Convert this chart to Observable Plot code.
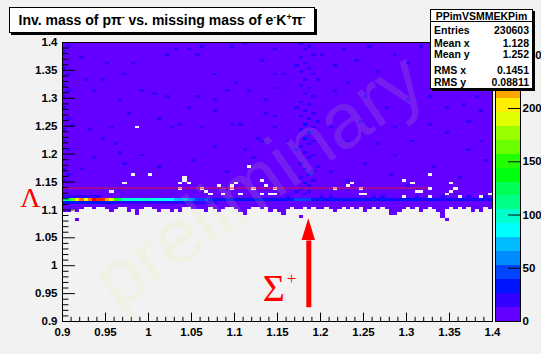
<!DOCTYPE html>
<html>
<head>
<meta charset="utf-8">
<script src="https://cdn.jsdelivr.net/npm/d3@7"></script>
<script src="https://cdn.jsdelivr.net/npm/@observablehq/plot@0.6"></script>
<style>
html,body{margin:0;padding:0;background:#f2f2f2;}
#wrap{position:relative;width:541px;height:354px;overflow:hidden;background:#f2f2f2;font-family:"Liberation Sans",Arial,Helvetica,sans-serif;font-weight:bold;color:#000;}
#wrap svg{position:absolute;top:0;}
#title{position:absolute;left:9px;top:7px;width:304px;height:24px;background:#fff;border:1px solid #000;box-shadow:2px 2px 0 #000;font-size:14px;line-height:25px;text-align:center;white-space:nowrap;}
.sup{font-size:9px;position:relative;top:-5px;}
#stats{position:absolute;left:430px;top:9px;width:101px;height:78px;background:#fff;border:1px solid #000;box-shadow:2px 2px 0 #000;font-size:10.5px;}
#stats .hdr{position:absolute;left:0;right:0;top:0;text-align:center;line-height:12px;}
#stats .sep{position:absolute;left:0;right:0;top:11px;border-top:1px solid #000;}
#stats .row{position:absolute;left:3px;right:3px;line-height:12px;}
#stats .row .v{position:absolute;right:0;top:0;}
#wm{position:absolute;left:258px;top:180px;transform:translate(-50%,-50%) rotate(-35deg);font-size:78px;font-weight:normal;color:rgba(228,240,130,0.13);white-space:nowrap;pointer-events:none;}
</style>
</head>
<body>
<div id="wrap"></div>
<script>
// ---------- chart data ----------
const binWidth = 0.005;                       // 100 x 100 bins on [0.9, 1.4]
const xRange = [0.9, 1.4];
const yRange = [0.9, 1.4];
const zMax = 262;                              // top of colour bar
const nLevels = 20;                            // ROOT contour levels
const backgroundCount = 5;                     // typical occupied bin (lowest colour)

const xMajor = [0.9, 0.95, 1, 1.05, 1.1, 1.15, 1.2, 1.25, 1.3, 1.35, 1.4];
const xTickLabels = ["0.9","0.95","1","1.05","1.1","1.15","1.2","1.25","1.3","1.35","1.4"];
const yMajor = [0.9, 0.95, 1, 1.05, 1.1, 1.15, 1.2, 1.25, 1.3, 1.35, 1.4];
const yTickLabels = ["0.9","0.95","1","1.05","1.1","1.15","1.2","1.25","1.3","1.35","1.4"];
const zTicks = [0, 50, 100, 150, 200, 250];
const zTickLabels = ["0", "50", "100", "150", "200", "250"];

// lowest occupied y bin (lower edge) for each x bin
const bottomEdge = [
 1.095,1.095,1.1,1.095,1.1,1.105,1.105,1.1,1.105,1.105,
 1.1,1.095,1.1,1.105,1.105,1.095,1.1,1.09,1.1,1.105,
 1.105,1.1,1.095,1.1,1.1,1.095,1.1,1.095,1.105,1.105,
 1.1,1.1,1.1,1.095,1.105,1.1,1.095,1.1,1.105,1.105,
 1.1,1.095,1.09,1.1,1.105,1.105,1.1,1.105,1.095,1.1,
 1.095,1.09,1.1,1.105,1.1,1.1,1.105,1.1,1.105,1.1,
 1.1,1.105,1.1,1.095,1.1,1.105,1.1,1.105,1.1,1.105,
 1.095,1.1,1.105,1.1,1.105,1.1,1.09,1.09,1.095,1.1,
 1.105,1.1,1.105,1.095,1.1,1.105,1.1,1.095,1.09,1.1,
 1.105,1.1,1.105,1.1,1.105,1.095,1.1,1.095,1.105,1.1
];

// Lambda peak row (y bin 1.115-1.12), counts per x bin
const lambdaRowY = 1.115;
const lambdaRow = [
 95,130,165,205,225,190,230,250,245,240,
 215,185,150,120,100,95,100,90,95,100,
 92,88,95,85,80,82,75,70,72,65,
 60,52,45,40,38,35,33,30,34,28,
 31,35,29,32,27,30,33,28,31,29,
 34,30,36,38,42,45,44,40,37,35,
 31,29,33,30,28,32,29,27,31,30,
 28,33,29,27,30,32,28,26,29,31,
 27,30,28,25,29,31,27,28,26,30,
 27,24,28,29,26,27,25,28,26,27
];
// row just below the peak (y bin 1.11-1.115), first x bins
const belowRowY = 1.11;
const belowRow = [
 30,32,35,33,36,34,35,30,33,32,28,27,25,24,22,20,22,21,
 20,19,22,20,18,19,17,18,16,17,15,16,14,15,14,16,14,15
];

// bins with a higher count (blue); [x, y, count]
const blueCells = [
 [0.905,1.39,18],[0.92,1.37,18],[0.95,1.36,18],[0.97,1.34,18],[0.98,1.36,18],[1.02,1.375,18],[1.03,1.385,18],
 [1.045,1.385,18],[1.055,1.375,18],[1.06,1.39,18],[1.075,1.34,18],[1.095,1.39,18],[1.11,1.395,18],[1.13,1.365,18],
 [1.145,1.34,18],[0.905,1.31,18],[0.925,1.33,18],[0.935,1.31,18],[0.945,1.33,18],[0.965,1.295,18],[0.99,1.31,18],
 [1.005,1.305,18],[1.02,1.3,18],[1.055,1.3,18],[1.075,1.295,18],[1.09,1.31,18],[1.1,1.325,18],[1.115,1.31,18],
 [1.135,1.295,18],[1.145,1.315,18],[0.91,1.25,18],[0.93,1.24,18],[0.945,1.225,18],[0.955,1.245,18],[0.975,1.27,18],
 [1.01,1.26,18],[1.025,1.245,18],[1.035,1.25,18],[1.045,1.28,18],[1.06,1.245,18],[1.075,1.275,18],[1.095,1.25,18],
 [1.105,1.25,18],[1.125,1.225,18],[1.135,1.27,18],[1.145,1.265,18],[0.905,1.205,18],[0.935,1.19,18],[0.96,1.215,18],
 [0.965,1.2,18],[0.99,1.195,18],[1.075,1.21,18],[1.11,1.205,18],[1.13,1.22,18],
 [0.9,1.35,18],[0.9,1.3,18],[0.9,1.28,18],[0.905,1.26,18],[0.9,1.22,18],[0.9,1.17,18],[0.905,1.16,18],[0.9,1.15,18],
 [0.9,1.38,18],[0.905,1.34,18],[0.9,1.32,18],[0.9,1.24,18],
 [1.145,1.385,18],[1.155,1.34,18],[1.2,1.375,18],[1.215,1.355,18],[1.225,1.385,18],[1.24,1.365,18],[1.255,1.39,18],
 [1.265,1.345,18],[1.285,1.375,18],[1.3,1.36,18],[1.315,1.39,18],[1.215,1.31,18],[1.23,1.325,18],[1.25,1.3,18],
 [1.275,1.28,18],[1.3,1.295,18],[1.325,1.3,18],[1.345,1.28,18],[1.365,1.285,18],[1.385,1.275,18],[1.38,1.3,18],
 [1.145,1.245,18],[1.16,1.22,18],[1.21,1.245,18],[1.23,1.22,18],[1.245,1.255,18],[1.265,1.215,18],[1.285,1.245,18],
 [1.305,1.22,18],[1.325,1.25,18],[1.345,1.235,18],[1.37,1.255,18],[1.385,1.22,18],[1.37,1.205,18],[1.285,1.195,18],
 [0.92,1.17,18],[0.97,1.18,18],[1.01,1.175,18],[1.05,1.185,18],[1.09,1.165,18],[1.12,1.19,18],[1.21,1.165,18],
 [1.25,1.18,18],[1.28,1.16,18],[1.33,1.175,18],[1.36,1.155,18],[1.39,1.185,18],[1.23,1.15,18],[1.3,1.14,18],
 // Sigma+ column
 [1.175,1.395,18],[1.175,1.37,18],[1.175,1.345,18],[1.175,1.32,18],[1.175,1.29,18],[1.175,1.265,18],[1.175,1.24,18],
 [1.175,1.21,18],[1.175,1.18,18],[1.175,1.155,18],[1.175,1.135,18],
 [1.18,1.385,18],[1.18,1.36,18],[1.18,1.33,18],[1.18,1.305,18],[1.18,1.275,18],[1.18,1.25,30],[1.18,1.225,30],
 [1.18,1.2,18],[1.18,1.17,18],[1.18,1.145,30],[1.18,1.125,18],
 [1.185,1.39,18],[1.185,1.35,18],[1.185,1.315,18],[1.185,1.285,18],[1.185,1.26,18],[1.185,1.235,30],[1.185,1.215,18],
 [1.185,1.19,18],[1.185,1.16,30],[1.185,1.14,18],[1.185,1.13,18],
 [1.19,1.375,18],[1.19,1.34,18],[1.19,1.3,18],[1.19,1.27,18],[1.19,1.245,18],[1.19,1.22,18],[1.19,1.195,18],
 [1.19,1.165,18],[1.19,1.15,18],
 [1.17,1.355,18],[1.17,1.28,18],[1.17,1.205,18],[1.17,1.13,18],[1.195,1.33,18],[1.195,1.255,18],[1.195,1.175,18],
 // row above the Lambda peak
 [0.9,1.12,20],[0.905,1.12,22],[0.91,1.12,18],[0.915,1.12,20],[0.92,1.12,24],[0.925,1.12,20],[0.93,1.12,18],
 [0.935,1.12,21],[0.94,1.12,17],[1.16,1.12,18],[1.2,1.12,18],[1.21,1.12,18],[1.26,1.12,18],[1.27,1.12,18],
 [1.31,1.12,18],[1.34,1.12,18],[1.37,1.12,18],[1.39,1.12,18]
];

// empty bins inside the occupied region; [x, y]
const emptyCells = [
 [0.985,1.245],[0.955,1.13],[0.97,1.145],[0.98,1.16],[1.0,1.16],[1.035,1.145],[1.035,1.135],[1.04,1.15],
 [1.04,1.155],[1.045,1.145],[1.06,1.135],[1.065,1.13],[1.07,1.125],[1.08,1.14],[1.085,1.125],[1.095,1.14],
 [1.095,1.135],[1.1,1.145],[1.105,1.125],[1.115,1.175],[1.12,1.135],[1.13,1.15],[1.13,1.125],[1.135,1.14],
 [1.14,1.125],[1.145,1.135],[1.145,1.125],[1.215,1.135],[1.23,1.14],[1.235,1.145],[1.245,1.135],[1.245,1.125],
 [1.25,1.125],[1.295,1.15],[1.305,1.145],[1.295,1.12],[1.315,1.13],[1.325,1.16],[1.325,1.135],[1.325,1.12],
 [1.345,1.125],[1.35,1.145],[1.35,1.13],[1.355,1.135],[1.36,1.12],[1.385,1.12],[1.395,1.125],[1.31,1.13]
];

// occupied bins below the main edge; [x, y, count]
const isolatedCells = [
 [0.915,1.08,5],[1.175,1.085,5],[1.335,1.095,5],[1.34,1.095,5],[1.34,1.085,5],[1.345,1.08,5],[1.285,1.09,5]
];

// annotations
const lambdaLineY = 1.139, lambdaLineX = [0.9, 1.325];
const arrowX = 1.1864, arrowBaseY = 0.9256, arrowHeadBaseY = 1.0452, arrowTipY = 1.084, arrowHalfWidth = 0.0078;
const sigmaLabel = {x: 1.1457, y: 0.9586, text: "Σ"}, sigmaPlus = {x: 1.1663, y: 0.9775, text: "+"};
const lambdaLabel = {x: 0.9, y: 1.1204, text: "Λ"};

const statsTitle = "PPimVSMMEKPim";
const statsNames = ["Entries", "Mean x", "Mean y", "RMS x", "RMS y"];
const statsValues = ["230603", "1.128", "1.252", "0.1451", "0.08811"];
const statsRowTops = [13.5, 26.5, 38, 54, 65.5];

// ---------- build ----------
const key = (x, y) => Math.round(x * 1000) + ":" + Math.round(y * 1000);
const special = new Map(blueCells.map(([x, y, c]) => [key(x, y), c]));
const empty = new Set(emptyCells.map(([x, y]) => key(x, y)));
const nBins = Math.round((xRange[1] - xRange[0]) / binWidth);
const binEdges = d3.range(nBins).map(i => +(xRange[0] + i * binWidth).toFixed(3));

const cells = [];
binEdges.forEach((x0, i) => {
  for (const y0 of binEdges) {
    if (y0 < bottomEdge[i] - 1e-9) continue;
    const k = key(x0, y0);
    if (empty.has(k)) continue;
    let c = backgroundCount;
    if (Math.abs(y0 - lambdaRowY) < 1e-9) c = lambdaRow[i];
    else if (Math.abs(y0 - belowRowY) < 1e-9 && i < belowRow.length) c = belowRow[i];
    if (special.has(k)) c = special.get(k);
    cells.push({x0, x1: x0 + binWidth, y0, y1: y0 + binWidth, count: c});
  }
});
for (const [x, y, c] of isolatedCells) cells.push({x0: x, x1: x + binWidth, y0: y, y1: y + binWidth, count: c});

// ROOT "pretty" palette (50 HLS colours), sampled for 20 contour levels
const step = zMax / nLevels;
const palette = d3.range(nLevels).map(k => {
  const i = Math.floor((k + 0.99) * 50 / nLevels);
  return d3.hsl(280 - (i + 1) * 5.6, 1, 0.5).formatHex();
});
const thresholds = d3.range(1, nLevels).map(k => k * step);
const colorOpts = {type: "threshold", domain: thresholds, range: palette};

const xLab = new Map(xMajor.map((v, i) => [v, xTickLabels[i]]));
const yLab = new Map(yMajor.map((v, i) => [v, yTickLabels[i]]));
const zLab = new Map(zTicks.map((v, i) => [v, zTickLabels[i]]));
const minor = d3.range(90, 141).filter(v => v % 5 !== 0).map(v => v / 100);

const fontStyle = {background: "transparent", fontFamily: "'Liberation Sans', Arial, sans-serif", fontSize: "11.5px", fontWeight: "bold", color: "#000", overflow: "visible"};

const main = Plot.plot({
  width: 541, height: 354,
  marginLeft: 62, marginRight: 49, marginTop: 42, marginBottom: 33,
  style: fontStyle,
  x: {domain: xRange, label: null},
  y: {domain: yRange, label: null},
  color: colorOpts,
  marks: [
    Plot.rect(cells, {x1: "x0", x2: "x1", y1: "y0", y2: "y1", fill: "count", shapeRendering: "crispEdges"}),
    Plot.ruleY([lambdaLineY], {x1: lambdaLineX[0], x2: lambdaLineX[1], stroke: "#e0103a", strokeWidth: 1}),
    Plot.axisY(yMajor, {anchor: "left", tickSize: -12.9, tickPadding: 17.9, tickFormat: d => yLab.get(d), label: null}),
    Plot.axisY(minor, {anchor: "left", tickSize: -6.45, tickFormat: () => "", label: null}),
    Plot.axisX(xMajor, {anchor: "bottom", tickSize: -8.4, tickPadding: 14.4, tickFormat: d => xLab.get(d), label: null}),
    Plot.axisX(minor, {anchor: "bottom", tickSize: -4.2, tickFormat: () => "", label: null}),
    Plot.frame({stroke: "#000"}),
    Plot.link([0], {x1: arrowX, x2: arrowX, y1: arrowBaseY, y2: arrowHeadBaseY, stroke: "#ff0000", strokeWidth: 5}),
    Plot.areaX([
      {y: arrowHeadBaseY, a: arrowX - arrowHalfWidth, b: arrowX + arrowHalfWidth},
      {y: arrowTipY, a: arrowX, b: arrowX}
    ], {y: "y", x1: "a", x2: "b", fill: "#ff0000"}),
    Plot.text([sigmaLabel], {x: "x", y: "y", text: "text", fontSize: 38, fontFamily: "'Liberation Serif', serif", fontWeight: "normal", fill: "#ff0000"}),
    Plot.text([sigmaPlus], {x: "x", y: "y", text: "text", fontSize: 17, fontFamily: "'Liberation Serif', serif", fontWeight: "normal", fill: "#ff0000"}),
    Plot.text([lambdaLabel], {x: "x", y: "y", text: "text", dx: -32, fontSize: 28, fontFamily: "'Liberation Serif', serif", fontWeight: "normal", fill: "#ff0000"})
  ]
});
main.style.left = "0px";

const levels = d3.range(nLevels).map(k => ({lo: k * step, hi: (k + 1) * step, mid: (k + 0.5) * step}));
const zbar = Plot.plot({
  width: 46, height: 354,
  marginLeft: 0, marginRight: 21, marginTop: 42, marginBottom: 33,
  style: fontStyle,
  y: {domain: [0, zMax], label: null},
  color: colorOpts,
  marks: [
    Plot.rect(levels, {y1: "lo", y2: "hi", fill: "mid", shapeRendering: "crispEdges"}),
    Plot.axisY(zTicks, {anchor: "right", tickSize: -13, tickPadding: 15, tickFormat: d => zLab.get(d), label: null}),
    Plot.frame({stroke: "#000"})
  ]
});
zbar.style.left = "495px";

const wrap = document.getElementById("wrap");
wrap.appendChild(main);
wrap.appendChild(zbar);

const wm = document.createElement("div");
wm.id = "wm"; wm.textContent = "preliminary";
wrap.appendChild(wm);

const title = document.createElement("div");
title.id = "title";
title.innerHTML = 'Inv. mass of p\u03c0<span class="sup">-</span> vs. missing mass of e<span class="sup">-</span>K<span class="sup">+</span>\u03c0<span class="sup">-</span>';
wrap.appendChild(title);

const stats = document.createElement("div");
stats.id = "stats";
let html = `<div class="hdr">${statsTitle}</div><div class="sep"></div>`;
statsNames.forEach((n, i) => {
  html += `<div class="row" style="top:${statsRowTops[i]}px"><span>${n}</span><span class="v">${statsValues[i]}</span></div>`;
});
stats.innerHTML = html;
wrap.appendChild(stats);
</script>
</body>
</html>
